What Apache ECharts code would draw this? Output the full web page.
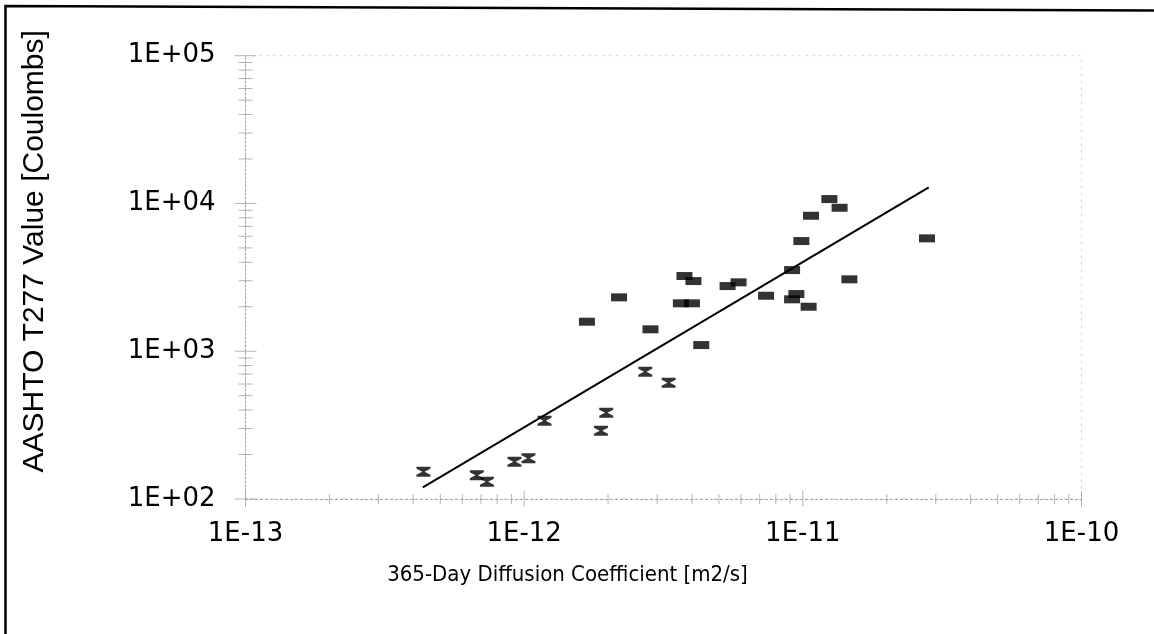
<!DOCTYPE html>
<html>
<head>
<meta charset="utf-8">
<script src="https://cdn.jsdelivr.net/npm/echarts@6/dist/echarts.min.js"></script>
<style>
  html, body { margin: 0; padding: 0; background: #fff; }
  #chart { width: 1154px; height: 634px; }
</style>
</head>
<body>
<div id="chart"></div>
<script>
// ---- Data ----
// Series A: hourglass markers (x = 365-day diffusion coefficient [m2/s], y = coulombs)
const hourglassX = [4.35e-13, 6.76e-13, 7.35e-13, 9.23e-13, 1.036e-12, 1.183e-12, 1.886e-12, 1.97e-12, 2.72e-12, 3.30e-12];
const hourglassY = [153, 145, 131, 179, 189, 339, 290, 384, 727, 612];

// Series B: filled rectangle markers
const rectX = [1.68e-12, 2.19e-12, 2.84e-12, 3.76e-12, 4.05e-12, 3.65e-12, 4.0e-12, 4.32e-12, 5.37e-12, 5.88e-12, 7.38e-12,
               9.15e-12, 9.48e-12, 9.15e-12, 1.049e-11, 9.88e-12, 1.07e-11, 1.245e-11, 1.355e-11, 1.469e-11, 2.79e-11];
const rectY = [1584, 2316, 1407, 3228, 2985, 2110, 2110, 1101, 2761, 2926, 2375,
               3543, 2438, 2245, 2001, 5567, 8257, 10710, 9352, 3066, 5806];

// Trend line end points
const trendX = [4.33e-13, 2.83e-11];
const trendY = [120, 12850];

// Axis ticks and labels
const xMajorTicks = [1e-13, 1e-12, 1e-11, 1e-10];
const xTickLabels = ['1E-13', '1E-12', '1E-11', '1E-10'];
const yMajorTicks = [100, 1000, 10000, 100000];
const yTickLabels = ['1E+02', '1E+03', '1E+04', '1E+05'];
const xMinorTicks = [2e-13, 3e-13, 4e-13, 5e-13, 6e-13, 7e-13, 8e-13, 9e-13,
                     2e-12, 3e-12, 4e-12, 5e-12, 6e-12, 7e-12, 8e-12, 9e-12,
                     2e-11, 3e-11, 4e-11, 5e-11, 6e-11, 7e-11, 8e-11, 9e-11];
const yMinorTicks = [200, 300, 400, 500, 600, 700, 800, 900,
                     2000, 3000, 4000, 5000, 6000, 7000, 8000, 9000,
                     20000, 30000, 40000, 50000, 60000, 70000, 80000, 90000];

const xTitle = '365-Day Diffusion Coefficient [m2/s]';
const yTitle = 'AASHTO T277 Value [Coulombs]';

// ---- Helpers ----
function labelFor(v, ticks, labels) {
  const lv = Math.log10(v);
  for (let i = 0; i < ticks.length; i++) {
    if (Math.abs(lv - Math.log10(ticks[i])) < 1e-6) return labels[i];
  }
  return '';
}
const tickColor = '#a0a0a0';
const xMin = xMajorTicks[0], xMax = xMajorTicks[xMajorTicks.length - 1];
const yMin = yMajorTicks[0], yMax = yMajorTicks[yMajorTicks.length - 1];

const tickData = []
  .concat(xMinorTicks.map(v => ({ value: [v, yMin], symbolSize: [1, 10] })))
  .concat(xMajorTicks.map(v => ({ value: [v, yMin], symbolSize: [1, 16] })))
  .concat(yMinorTicks.map(v => ({ value: [xMin, v], symbolSize: [14, 1] })))
  .concat(yMajorTicks.map(v => ({ value: [xMin, v], symbolSize: [22, 1] })));

const chart = echarts.init(document.getElementById('chart'), null, { renderer: 'canvas' });

const labelFont = 'DejaVu Sans';
const option = {
  animation: false,
  backgroundColor: '#ffffff',
  grid: {
    left: 245.5, right: 72.5, top: 55.7, bottom: 135,
    show: true, borderColor: '#c8c8c8', borderWidth: 1, borderType: [2, 5],
    backgroundColor: 'transparent'
  },
  xAxis: {
    type: 'log', logBase: 10, min: xMin, max: xMax, splitNumber: 3,
    axisLine: { show: true, lineStyle: { color: tickColor, width: 1, type: [2, 3] } },
    axisTick: { show: false },
    splitLine: { show: false },
    axisLabel: {
      margin: 22, color: '#000', fontFamily: labelFont, fontSize: 26,
      formatter: v => labelFor(v, xMajorTicks, xTickLabels)
    },
    name: xTitle, nameLocation: 'middle', nameGap: 65,
    nameTextStyle: {
      color: '#000', fontFamily: "'Liberation Sans Narrow', 'DejaVu Sans Condensed', 'Liberation Sans'",
      fontSize: 22, padding: [0, 192, 0, 0]
    }
  },
  yAxis: {
    type: 'log', logBase: 10, min: yMin, max: yMax, splitNumber: 3,
    axisLine: { show: true, lineStyle: { color: tickColor, width: 1, type: [2, 2] } },
    axisTick: { show: false },
    splitLine: { show: false },
    axisLabel: {
      margin: 30, color: '#000', fontFamily: labelFont, fontSize: 26,
      formatter: v => labelFor(v, yMajorTicks, yTickLabels)
    },
    name: yTitle, nameLocation: 'middle', nameGap: 196,
    nameTextStyle: { color: '#000', fontFamily: 'Liberation Sans', fontSize: 30, padding: [0, 0, 0, 52] }
  },
  graphic: [{
    type: 'polyline',
    shape: { points: [[5.5, 634], [5.5, 6], [1154, 10.5]] },
    style: { stroke: '#000', lineWidth: 2.5, fill: null },
    silent: true, z: 100
  }],
  series: [
    {
      name: 'ticks', type: 'scatter', silent: true, clip: false,
      symbol: 'rect', itemStyle: { color: tickColor }, z: 1,
      data: tickData
    },
    {
      name: 'Trend', type: 'line', silent: true, clip: false,
      showSymbol: false, symbol: 'none',
      lineStyle: { color: '#000', width: 2 }, z: 3,
      data: trendX.map((x, i) => [x, trendY[i]])
    },
    {
      name: 'Hourglass', type: 'scatter', clip: false,
      symbol: 'path://M0,0H14V2L8.2,5L14,8V10H0V8L5.8,5L0,2Z',
      symbolSize: [14, 10], itemStyle: { color: '#000' }, z: 4,
      data: hourglassX.map((x, i) => [x, hourglassY[i]])
    },
    {
      name: 'Rectangles', type: 'scatter', clip: false,
      symbol: 'rect', symbolSize: [16, 8], itemStyle: { color: '#000' }, z: 4,
      data: rectX.map((x, i) => [x, rectY[i]])
    }
  ]
};
chart.setOption(option);
</script>
</body>
</html>
